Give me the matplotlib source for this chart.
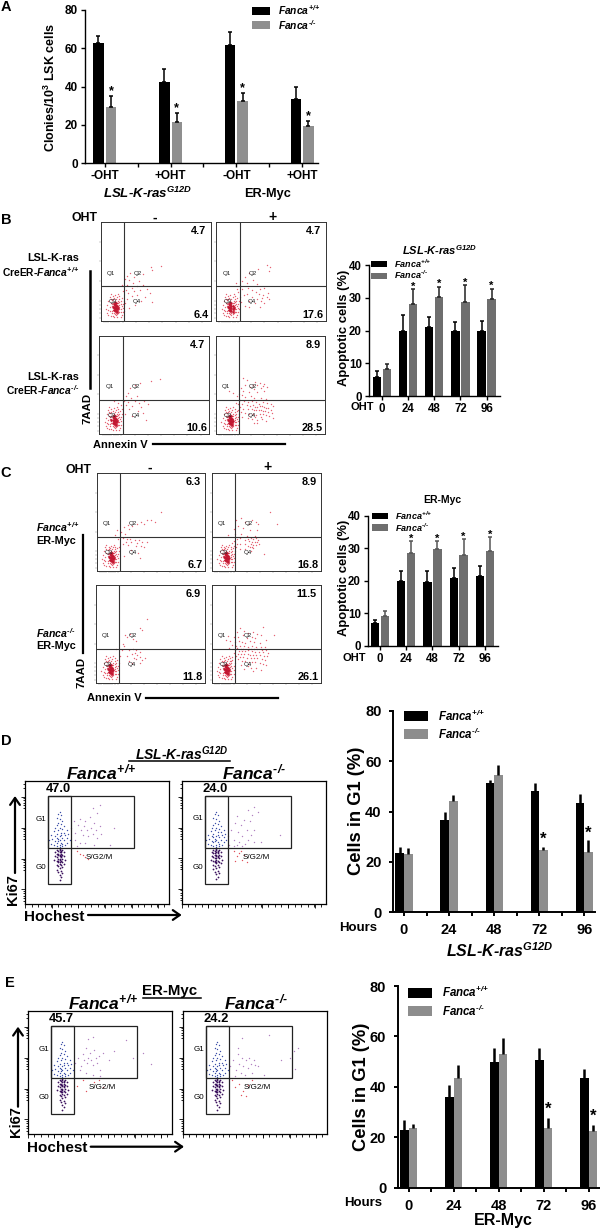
import numpy as np
import matplotlib
matplotlib.use('Agg')
import matplotlib.pyplot as plt
from matplotlib.patches import Rectangle

plt.rcParams['font.family'] = ['Liberation Sans', 'DejaVu Sans']
plt.rcParams['font.weight'] = 'bold'
plt.rcParams['mathtext.fontset'] = 'custom'
plt.rcParams['mathtext.rm'] = 'Liberation Sans:italic:bold'
plt.rcParams['mathtext.it'] = 'Liberation Sans:italic:bold'
plt.rcParams['mathtext.bf'] = 'Liberation Sans:bold'

W, H = 600, 1230

# panel A
a_labels = ['-OHT', '+OHT', '-OHT', '+OHT']
a_wt = [62.5, 42.5, 61.5, 33.5]
a_wt_err = [4, 6.5, 7, 6]
a_ko = [29.5, 21.5, 32.5, 19.5]
a_ko_err = [5.5, 4.5, 4, 2.5]

# bar panels with time points
oht_hours = ['0', '24', '48', '72', '96']
b_wt = [5.8, 19.8, 21, 19.9, 19.9]
b_wt_err = [1.8, 5, 3, 2.6, 2.9]
b_ko = [8.2, 28.2, 30.3, 28.7, 29.5]
b_ko_err = [1.6, 4.5, 3.1, 5.1, 3.3]
b_star = [1, 2, 3, 4]

c_wt = [7, 20, 19.8, 20.8, 21.4]
c_wt_err = [1, 3, 3.4, 3.2, 3.3]
c_ko = [9.2, 28.5, 29.7, 28, 29.2]
c_ko_err = [1.5, 3.8, 2.7, 4.8, 4.2]

d_wt = [23.5, 36.8, 51.5, 48, 43.5]
d_wt_err = [2.5, 3.2, 1, 3.5, 3.5]
d_ko = [23, 44, 54.5, 24.5, 24]
d_ko_err = [2.3, 2.5, 4, 1.3, 4.5]

e_wt = [23, 36, 50, 50.7, 43.5]
e_wt_err = [4, 4.8, 5.5, 4.6, 3.5]
e_ko = [23.5, 43.5, 53, 23.5, 22.3]
e_ko_err = [1.7, 5.2, 6.3, 4, 2.4]

# flow plots, read by eye, % of the plot box
core_pts = [(13,14),(14,12),(12,16),(15,15),(11,13),(13,10),(16,13),(14,17),(12,19),(10,15),(15,9),(13,20),
            (17,16),(11,11),(14,22),(16,18),(12,8),(13,7),(9,18),(18,12),(15,24),(10,21),(14,6),(12,23),(16,8),
            (13,16),(11,25),(17,9),(8,14),(19,15),(14,10),(15,14),(12,13),(10,8),(13,12),(16,20),(18,20),(11,5),
            (14,15),(9,22),(20,9),(12,11),(15,7),(13,17),(17,14),(7,11),(13,26),(16,11),(11,18),(14,13),(12,14),
            (15,16),(18,17),(10,10),(13,13),(14,11),(15,12),(13,15),(12,12),(14,14),(16,15),(15,11),(14,16),(13,9),
            (15,18),(12,17),(16,10),(14,19),(11,15),(17,12),(15,13),(14,8),(13,11),(16,14),(12,10),(15,10),
            (6,16),(5,12),(7,20),(8,24),(6,8),(9,5),(19,6),(20,17),(19,23),(17,25),(20,13),(21,20),(16,27),(9,27),
            (7,6),(18,4),(12,4),(15,4),(17,19),(10,17),(8,10),(18,9),(11,22),(17,22)]
core_dense = [(13,13),(14,15),(13,11),(15,12),(12,14),(14,13),(13,16),(15,15),(12,11),(14,10),(16,13),(13,18),
              (14,18),(15,9),(12,17),(11,14)]
b1_pts = [(46,54),(55,55),(47,51),(38,47),(27,48),(24,45),(30,44),(22,42),(26,41),(35,40),(29,38),(24,36),(33,35),
          (38,36),(28,33),(23,31),(30,30),(36,31),(42,32),(45,28),(25,28),(33,26),(28,25),(40,24),(24,22),(37,20),
          (47,19),(22,18),(31,16),(26,13),(21,10),(20,30),(19,36)]
b2_pts = [(46,56),(49,54),(48,50),(38,52),(30,48),(26,44),(24,40),(28,38),(34,41),(37,37),(22,35),(24,32),(29,33),
          (33,31),(40,32),(44,33),(36,29),(39,27),(43,26),(46,24),(48,22),(33,24),(37,22),(41,20),(28,27),(25,26),
          (22,24),(30,20),(35,18),(44,18),(23,19),(20,29),(19,32),(18,38),(26,15),(30,14),(40,14),(21,12),(47,28),
          (42,23)]
b3_pts = [(55,56),(47,54),(37,52),(32,50),(28,47),(26,42),(24,38),(34,38),(29,36),(22,33),(26,32),(32,33),(41,33),
          (36,31),(24,29),(30,28),(38,27),(44,30),(27,25),(35,23),(40,21),(23,20),(30,18),(42,14),(20,29),(17,31),
          (13,33),(21,25)]
b4_pts = [(25,57),(28,55),(36,53),(40,52),(44,51),(34,50),(38,50),(43,49),(47,48),(27,50),(31,48),(35,46),(41,47),
          (23,47),(25,44),(30,43),(38,43),(44,44),(21,41),(24,39),(19,38),(16,42),(12,44),(27,37),(32,38),(35,36),
          (41,36),(46,35),(22,34),(26,33),(29,32),(33,33),(37,32),(39,30),(43,32),(47,31),(50,30),(52,28),(24,30),
          (28,29),(31,28),(34,29),(36,27),(38,27),(40,28),(42,28),(44,27),(46,26),(48,26),(50,24),(22,27),(25,25),
          (29,25),(33,25),(35,24),(37,24),(39,24),(41,24),(43,23),(45,23),(48,22),(51,21),(23,22),(27,21),(30,20),
          (34,20),(37,19),(40,20),(43,20),(46,19),(49,18),(52,16),(24,17),(29,16),(33,15),(38,14),(42,15),(46,13),
          (36,17),(41,17),(20,30),(20,24),(18,31),(35,11),(38,11)]
c1_pts = [(59,60),(50,52),(54,50),(46,52),(41,50),(44,48),(37,48),(33,46),(29,47),(25,45),(30,43),(19,42),(22,40),
          (26,38),(17,37),(20,33),(24,34),(28,33),(31,33),(35,32),(39,32),(27,30),(32,30),(37,29),(42,30),(46,30),
          (24,28),(29,27),(36,26),(41,26),(44,24),(21,25),(32,21),(40,13),(25,15),(38,18)]
c2_pts = [(53,60),(60,48),(27,54),(22,52),(30,50),(37,52),(40,50),(42,48),(34,48),(24,46),(20,43),(28,44),(35,42),
          (41,42),(21,38),(15,37),(27,38),(32,36),(39,36),(23,33),(26,34),(30,32),(33,33),(36,34),(38,33),(40,34),
          (42,32),(20,31),(34,31),(37,30),(39,30),(41,30),(36,28),(38,27),(40,27),(43,28),(30,28),(26,28),(23,28),
          (18,29),(33,26),(35,25),(37,25),(30,22),(22,24),(26,22),(48,17),(36,20),(20,26),(38,23)]
c3_pts = [(47,65),(40,56),(42,54),(31,50),(27,49),(28,47),(34,45),(37,43),(25,40),(26,38),(21,35),(18,34),(24,33),
          (30,33),(34,34),(37,33),(40,31),(36,30),(38,28),(33,29),(40,26),(28,27),(35,25),(37,24),(45,25),(42,23),
          (22,27),(30,22),(33,20),(40,20)]
c4_pts = [(47,57),(26,56),(30,53),(23,52),(33,51),(38,52),(42,50),(57,49),(45,49),(29,49),(15,48),(20,47),(24,47),
          (32,46),(37,47),(40,46),(50,44),(13,44),(17,43),(21,42),(25,43),(28,42),(31,41),(35,43),(39,42),(44,41),
          (19,39),(22,38),(26,38),(30,38),(33,37),(37,38),(41,37),(45,37),(49,37),(16,36),(23,36),(27,35),(29,35),
          (34,35),(36,35),(39,34),(42,34),(46,33),(50,33),(21,33),(25,32),(28,32),(31,32),(33,33),(37,32),(40,31),
          (43,31),(47,31),(52,30),(24,29),(27,29),(30,29),(33,29),(35,28),(38,28),(41,28),(44,28),(48,27),(51,27),
          (22,27),(26,26),(29,26),(32,25),(36,25),(39,25),(42,25),(46,24),(49,23),(24,24),(28,22),(31,22),(34,21),
          (37,21),(40,21),(44,20),(47,19),(50,18),(27,18),(33,17),(36,15),(41,15),(45,13),(30,14),(38,12),(20,30),
          (19,26),(18,22)]

scatter_pts = [b1_pts, b2_pts, b3_pts, b4_pts, c1_pts, c2_pts, c3_pts, c4_pts]
b_tl = ['4.7', '4.7', '4.7', '8.9', '6.3', '8.9', '6.9', '11.5']
b_br = ['6.4', '17.6', '10.6', '28.5', '6.7', '16.8', '11.8', '26.1']

g1_pts = [(24,46),(22,47),(26,47),(20,48),(24,48),(28,48),(18,49),(22,50),(25,50),(29,50),(21,51),(24,52),(27,52),
          (19,53),(23,53),(26,54),(29,54),(21,55),(24,55),(28,56),(18,56),(22,57),(25,58),(27,58),(20,59),(23,60),
          (26,61),(29,60),(21,62),(24,62),(27,63),(22,64),(25,65),(23,66),(26,67),(24,69),(22,70),(25,72),(23,73),
          (24,75),(30,57),(31,52),(17,52),(25,56),(23,51),(26,49),(22,54)]
g0_pts = [(24,45),(22,44),(26,44),(23,43),(25,43),(21,42),(24,42),(27,42),(22,41),(25,41),(23,40),(26,40),(21,39),
          (24,39),(27,39),(22,38),(25,38),(23,37),(26,37),(20,36),(24,36),(28,36),(22,35),(25,35),(23,34),(26,34),
          (24,33),(27,33),(22,32),(25,32),(23,31),(26,30),(24,29),(22,28),(25,27),(23,26),(26,25),(24,24),(25,22),
          (24,20),(24,44),(25,42),(23,41),(24,40),(25,39),(24,37),(23,35),(24,34)]
d1_s = [(32,62),(35,58),(37,64),(38,69),(39,60),(40,56),(41,63),(42,67),(43,60),(44,55),(45,71),(46,62),(47,57),
        (48,66),(49,60),(50,74),(50,54),(47,78),(52,80),(52,63),(53,57),(38,50),(42,50),(35,52),(48,48),(62,62),(59,48),
        (34,67),(36,47)]
d1_r = [(38,41),(40,40),(42,38),(44,37),(36,43)]
d2_s = [(32,55),(34,60),(36,52),(37,66),(38,48),(39,58),(40,50),(41,64),(42,55),(43,68),(44,49),(45,60),(46,52),
        (47,67),(48,56),(49,72),(50,60),(50,50),(46,76),(50,79),(53,75),(55,50),(68,56),(36,47),(42,47),(33,48),(38,71)]
d2_r = [(36,43),(38,39),(40,41),(42,36),(43,40),(37,35),(41,43),(45,34)]
e1_s = [(33,58),(35,62),(37,55),(38,65),(39,60),(40,70),(41,58),(42,62),(43,66),(44,60),(45,56),(46,68),(47,62),
        (48,58),(49,63),(50,52),(42,77),(45,79),(52,66),(56,60),(60,67),(68,76),(73,62),(80,66),(85,57),(36,52),(40,50),
        (45,48),(50,47)]
e1_r = [(34,39),(38,44),(40,35),(46,42),(49,44),(52,38)]
e2_s = [(33,55),(35,60),(37,52),(38,65),(39,57),(40,50),(41,62),(42,55),(43,48),(44,60),(45,54),(46,62),(47,57),
        (48,50),(49,60),(50,56),(38,70),(41,78),(52,55),(56,48),(68,60),(74,62),(77,67),(78,53),(80,70),(60,80),(36,47)]
e2_r = [(34,44),(36,38),(39,41),(42,35),(45,40),(48,44),(40,32),(44,31)]
dna_titles = ['47.0', '24.0', '45.7', '24.2']

fig = plt.figure(figsize=(W / 100, H / 100), dpi=100)


def add_ax(x0, y0, x1, y1):
    # pixel box, y counted from the top like the picture
    ax = fig.add_axes([x0 / W, 1 - y1 / H, (x1 - x0) / W, (y1 - y0) / H])
    ax.patch.set_alpha(0)
    return ax


def T(x, y, s, size=8, ha='center', va='center', **kw):
    return fig.text(x / W, 1 - y / H, s, fontsize=size, ha=ha, va=va, **kw)


def fig_line(x0, y0, x1, y1, lw=1.5, color='k'):
    fig.add_artist(plt.Line2D([x0 / W, x1 / W], [1 - y0 / H, 1 - y1 / H], lw=lw, color=color, transform=fig.transFigure))


def arrow(x0, y0, x1, y1):
    fig.add_artist(matplotlib.patches.FancyArrowPatch((x0 / W, 1 - y0 / H), (x1 / W, 1 - y1 / H), transform=fig.transFigure,
                                                      arrowstyle='->,head_length=5,head_width=3.5', lw=1.6, color='k',
                                                      shrinkA=0, shrinkB=0, mutation_scale=1))


def legend_box(x0, y0, x1, y1, color):
    fig.add_artist(Rectangle((x0 / W, 1 - y1 / H), (x1 - x0) / W, (y1 - y0) / H, color=color, lw=0, transform=fig.transFigure))


WT = r'$\mathit{Fanca}^{\text{+/+}}$'
KO = r'$\mathit{Fanca}^{\text{-/-}}$'
RAS = r'LSL-K-ras$^{\mathit{G12D}}$'


def bar_panel(box, xlim, ylim, yticks, wt, wt_err, ko, ko_err, width, off, ko_color, lw, elw, size, err_ko_color,
              cap=0, between=False, labels=oht_hours, pad=2, stars=(), star_size=9, star_gap=2):
    ax = add_ax(*box)
    x = np.arange(len(wt))
    ax.bar(x - off, wt, width, color='k')
    ax.bar(x + off, ko, width, color=ko_color)
    ax.errorbar(x - off, wt, yerr=[np.zeros(len(wt)), wt_err], fmt='none', ecolor='k', elinewidth=elw, capsize=cap, capthick=elw)
    ax.errorbar(x + off, ko, yerr=[np.zeros(len(ko)), ko_err], fmt='none', ecolor=err_ko_color, elinewidth=elw, capsize=cap, capthick=elw)
    ax.set_xlim(*xlim)
    ax.set_ylim(*ylim)
    ax.set_yticks(yticks)
    if between:
        pos = np.arange(0, len(wt) - 0.5, 0.5)
        ax.set_xticks(pos)
        lab = []
        for i in range(len(pos)):
            lab.append(labels[i // 2] if i % 2 == 0 else '')
        ax.set_xticklabels(lab)
    else:
        ax.set_xticks(x)
        ax.set_xticklabels(labels)
    ax.tick_params(labelsize=size, width=lw, length=3.2, pad=pad)
    for s in ['top', 'right']:
        ax.spines[s].set_visible(False)
    for s in ['left', 'bottom']:
        ax.spines[s].set_linewidth(lw)
    for i in stars:
        ax.text(x[i] + off, ko[i] + ko_err[i] + star_gap, '*', fontsize=star_size, ha='center', va='center')
    return ax


# A
bar_panel((85, 10, 318, 163), (-0.30, 3.24), (0, 80), [0, 20, 40, 60, 80], a_wt, a_wt_err, a_ko, a_ko_err, 0.16, 0.095,
          '#8f8f8f', 1.0, 1.1, 8.5, 'k', cap=1.2, between=True, labels=a_labels, stars=range(4), star_gap=2.6)
T(50, 87, r'Clonies/10$^{\mathbf{3}}$ LSK cells', 9, rotation=90)
T(148, 193, RAS, 9.5, style='italic')
T(267.5, 194, 'ER-Myc', 9.2)
legend_box(251.7, 7.3, 270, 15.3, 'k')
legend_box(251.7, 21.3, 270, 29, '#8f8f8f')
T(277.7, 10.5, WT, 7.4, ha='left')
T(277.7, 25, KO, 7.4, ha='left')
T(6, 7, 'A', 10.5)


# B, C flow plots
boxes = [(100.7, 221.7, 210.7, 320.7), (216, 221.7, 326, 320.7), (99.3, 335.7, 209.3, 433.7), (216, 335.7, 325, 433.7),
         (96.7, 473, 205, 571), (212, 473, 321, 571), (96, 585, 205, 682.7), (211.7, 585, 320.7, 682.7)]
dense = np.array(core_dense)
for i, box in enumerate(boxes):
    ax = add_ax(*box)
    pts = np.array(core_pts + scatter_pts[i])
    ax.scatter(pts[:, 0], pts[:, 1], s=1.0, color='#e2475a', linewidths=0, alpha=0.85)
    ax.scatter(dense[:, 0], dense[:, 1], s=3, color='#c01530', linewidths=0)
    ax.axvline(21.5, color='#333333', lw=0.8)
    ax.axhline(34.7, color='#333333', lw=0.8)
    ax.set_xlim(0, 100)
    ax.set_ylim(0, 100)
    ax.set_xticks([3, 5, 7, 9, 11, 13, 15, 17, 20, 32, 44, 56, 68, 80, 92])
    ax.set_yticks([3, 8, 12, 16, 20, 40, 60, 80])
    ax.tick_params(length=1.2, width=0.3, color='#888888', labelbottom=False, labelleft=False, pad=0)
    for s in ax.spines.values():
        s.set_linewidth(0.7)
        s.set_color('#333333')
    for q, qx, qy in [('Q1', 9.5, 48), ('Q2', 33.5, 48), ('Q3', 11, 19), ('Q4', 33, 19)]:
        ax.text(qx, qy, q, fontsize=4.5, fontweight='normal', ha='center', va='center', color='#222222')
    ax.text(96, 91, b_tl[i], fontsize=7.8, ha='right', va='center')
    ax.text(98, 6, b_br[i], fontsize=7.8, ha='right', va='center')

T(84, 218, 'OHT', 8.8)
T(155, 218, '-', 10)
T(272.5, 217, '+', 10)
T(6, 220, 'B', 10.5)
T(79, 258, 'LSL-K-ras', 7.8, ha='right')
T(79.5, 272, r'CreER-$\mathit{Fanca}^{\text{+/+}}$', 7.4, ha='right')
T(79, 377, 'LSL-K-ras', 7.8, ha='right')
T(79.5, 390, r'CreER-$\mathit{Fanca}^{\text{-/-}}$', 7.4, ha='right')
fig_line(90, 270.7, 90, 387.7, lw=1.8)
T(87.3, 408, '7AAD', 8.2, rotation=90)
T(120, 445, 'Annexin V', 8)
fig_line(153, 443.7, 285, 443.7, lw=1.6)

T(78, 470, 'OHT', 8.8)
T(150, 468, '-', 10)
T(267, 467, '+', 10)
T(6, 473, 'C', 10.5)
T(79.5, 527, WT, 7.6, ha='right')
T(76, 541, 'ER-Myc', 7.8, ha='right')
T(76, 633, KO, 7.6, ha='right')
T(76, 646, 'ER-Myc', 7.8, ha='right')
fig_line(83, 535, 83, 653, lw=1.6)
T(81.7, 672, '7AAD', 8.2, rotation=90)
T(114, 698, 'Annexin V', 8)
fig_line(146, 697.7, 277.7, 697.7, lw=1.6)

# B, C bars
bar_panel((369, 265, 500, 396), (-0.49, 4.51), (0, 40), [0, 10, 20, 30, 40], b_wt, b_wt_err, b_ko, b_ko_err, 0.32, 0.19,
          '#6e6e6e', 1.0, 1.1, 8.3, '#222222', cap=1.2, stars=b_star, star_size=8, star_gap=0.7)
T(440, 250.5, RAS, 8, style='italic')
legend_box(370.7, 260.7, 387, 267.3, 'k')
legend_box(370.7, 272.7, 387, 279, '#6e6e6e')
T(394, 264, WT, 6.5, ha='left')
T(394, 275, KO, 6.5, ha='left')
T(344.5, 328, 'Apoptotic cells (%)', 9.4, rotation=90)
T(362, 407.5, 'OHT', 8)

bar_panel((368, 516, 498, 646), (-0.46, 4.5), (0, 40), [0, 10, 20, 30, 40], c_wt, c_wt_err, c_ko, c_ko_err, 0.32, 0.19,
          '#6e6e6e', 1.0, 1.1, 8.3, '#555555', cap=1.2, stars=b_star, star_size=8, star_gap=0.7)
T(442.7, 500, 'ER-Myc', 7.5)
legend_box(372, 513.3, 388, 519.3, 'k')
legend_box(372, 524.3, 388, 531, '#6e6e6e')
T(395, 516, WT, 6.5, ha='left')
T(395, 527.5, KO, 6.5, ha='left')
T(343.5, 578, 'Apoptotic cells (%)', 9.4, rotation=90)
T(354, 658, 'OHT', 8)

# D, E flow plots
dna_boxes = [(25, 780.7, 169, 904.3), (181.7, 780.7, 326, 904), (27.7, 1010.7, 172.3, 1134.3), (182.7, 1010.7, 327.3, 1134.3)]
dna_s = [d1_s, d2_s, e1_s, e2_s]
dna_r = [d1_r, d2_r, e1_r, e2_r]
for i, box in enumerate(dna_boxes):
    ax = add_ax(*box)
    g1 = np.array(g1_pts)
    g0 = np.array(g0_pts)
    s = np.array(dna_s[i])
    r = np.array(dna_r[i])
    ax.scatter(g1[:, 0], g1[:, 1], s=1.0, color='#3b4fa8', linewidths=0)
    ax.scatter(g0[:, 0], g0[:, 1], s=1.6, color='#3a0f5c', linewidths=0)
    ax.scatter(s[:, 0], s[:, 1], s=1.0, color='#b080c0', linewidths=0)
    ax.scatter(r[:, 0], r[:, 1], s=1.0, color='#e0505a', linewidths=0)
    ax.add_patch(Rectangle((16.1, 45.3), 59.3, 42.3, fill=False, ec='#222222', lw=0.9))
    ax.add_patch(Rectangle((16.1, 16.2), 15.9, 71.4, fill=False, ec='#222222', lw=0.9))
    ax.set_xlim(0, 100)
    ax.set_ylim(0, 100)
    ax.set_xticks(np.arange(0, 101, 18.5))
    ax.set_xticks(np.arange(0, 101, 4.6), minor=True)
    ax.set_yticks([12, 37, 62, 87])
    ax.set_yticks([3, 5, 7, 9, 11, 28, 30, 32, 34, 36, 53, 55, 57, 59, 61, 78, 80, 82, 84, 86, 94, 97], minor=True)
    ax.tick_params(which='major', length=3, width=0.6, labelbottom=False, labelleft=False)
    ax.tick_params(which='minor', length=1.8, width=0.6)
    for sp in ax.spines.values():
        sp.set_linewidth(0.9)
    ax.text(11, 69, 'G1', fontsize=5.8, fontweight='normal', ha='center', va='center')
    ax.text(11, 30, 'G0', fontsize=5.8, fontweight='normal', ha='center', va='center')
    ax.text(51.4, 38, 'S/G2/M', fontsize=5.8, fontweight='normal', ha='center', va='center')
    ax.text(23, 93, dna_titles[i], fontsize=9.3, ha='center', va='center')

T(6, 741, 'D', 10.5)
T(181.7, 754, RAS, 10, style='italic')
fig_line(129, 761, 230, 761, lw=1.1)
T(66, 772, WT, 12.5, ha='left')
T(221.7, 772, KO, 12.5, ha='left')
T(12.7, 890, 'Ki67', 10.5, rotation=90)
arrow(15, 873, 15, 796)
T(54, 917, 'Hochest', 11)
arrow(88, 915, 181.7, 915)

T(10, 983, 'E', 10.5)
T(170, 991, 'ER-Myc', 10.8)
fig_line(142.7, 998, 200.7, 998, lw=1.1)
T(68, 1002, WT, 12.5, ha='left')
T(224, 1002, KO, 12.5, ha='left')
T(15.7, 1121.7, 'Ki67', 10.5, rotation=90)
arrow(18, 1106.7, 18, 1026.7)
T(57, 1147.7, 'Hochest', 11)
arrow(90.7, 1146.7, 184, 1146.7)

# D, E bars
bar_panel((393, 711, 595, 912), (-0.244, 4.24), (0, 80), [0, 20, 40, 60, 80], d_wt, d_wt_err, d_ko, d_ko_err, 0.19, 0.095,
          '#8d8d8d', 1.4, 1.8, 10.5, 'k', between=True, pad=5, stars=[3, 4], star_size=12, star_gap=3)
legend_box(404, 711, 428.3, 721, 'k')
legend_box(404, 729.3, 428.3, 739, '#8d8d8d')
T(438.3, 716, WT, 8.3, ha='left')
T(438.3, 734, KO, 8.3, ha='left')
T(356.7, 811, 'Cells in G1 (%)', 13.2, rotation=90)
T(358, 928, 'Hours', 9.5)
T(500, 951, RAS, 11.5, style='italic')

bar_panel((397.7, 986, 600, 1187.7), (-0.245, 4.25), (0, 80), [0, 20, 40, 60, 80], e_wt, e_wt_err, e_ko, e_ko_err, 0.19, 0.095,
          '#8d8d8d', 1.4, 1.8, 10.5, 'k', between=True, pad=5, stars=[3, 4], star_size=12, star_gap=3.5)
legend_box(407.7, 987.7, 431.7, 997.7, 'k')
legend_box(407.7, 1006, 431.7, 1015.7, '#8d8d8d')
T(441.7, 992.5, WT, 8.3, ha='left')
T(441.7, 1011, KO, 8.3, ha='left')
T(361.7, 1087, 'Cells in G1 (%)', 13.2, rotation=90)
T(362.7, 1203, 'Hours', 9.5)
T(503, 1221, 'ER-Myc', 11.5)

fig.savefig('out.png', dpi=100)
